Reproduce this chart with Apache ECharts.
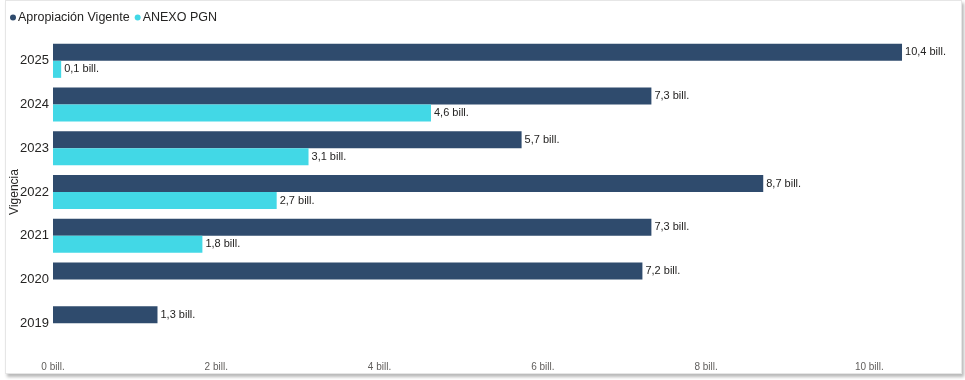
<!DOCTYPE html>
<html>
<head>
<meta charset="utf-8">
<script src="https://cdn.jsdelivr.net/npm/echarts@6/dist/echarts.min.js"></script>
<style>
html,body{margin:0;padding:0;background:#fff;width:965px;height:380px;overflow:hidden;}
#card{position:absolute;left:5px;top:0px;width:955px;height:372px;background:#fff;border:1px solid #e6e6e6;box-shadow:2px 3px 3px rgba(0,0,0,0.28);}
#chart{position:absolute;left:0;top:0;width:965px;height:380px;}
</style>
</head>
<body>
<div id="card"></div>
<div id="chart"></div>
<script>
const categories = ['2019','2020','2021','2022','2023','2024','2025'];
const apropiacionVigente = [1.28, 7.22, 7.33, 8.70, 5.74, 7.33, 10.40];
const anexoPGN = [null, null, 1.83, 2.74, 3.13, 4.63, 0.10];
const seriesNames = ['Apropiación Vigente', 'ANEXO PGN'];
const xTicks = [0, 2, 4, 6, 8, 10];

const font = "'Liberation Sans', Arial, sans-serif";
const fmt = v => v.toFixed(1).replace('.', ',') + ' bill.';

const chart = echarts.init(document.getElementById('chart'), null, {renderer: 'canvas'});
const labelCfg = {
  show: true, position: 'right', distance: 3,
  fontFamily: font, fontSize: 11, color: '#252423',
  formatter: p => fmt(p.value)
};
chart.setOption({
  animation: false,
  backgroundColor: 'transparent',
  textStyle: {fontFamily: font},
  legend: {
    left: 5, top: 6, icon: 'circle', itemWidth: 6, itemHeight: 6, itemGap: 5,
    itemStyle: {borderWidth: 0},
    textStyle: {fontFamily: font, fontSize: 12.5, color: '#252423', padding: [0,0,0,-3]},
    data: seriesNames
  },
  grid: {left: 53, right: 14, top: 39, bottom: 35, containLabel: false, outerBoundsMode: 'none'},
  xAxis: {
    type: 'value', min: 0, max: 11, interval: 2,
    axisLine: {show: false}, axisTick: {show: false}, splitLine: {show: false},
    axisLabel: {
      showMaxLabel: false, margin: 17,
      fontFamily: font, fontSize: 10, color: '#605E5C',
      formatter: v => xTicks.includes(v) ? v + ' bill.' : ''
    }
  },
  yAxis: {
    type: 'category', data: categories,
    name: 'Vigencia', nameLocation: 'middle', nameGap: 32, nameRotate: 90,
    nameMoveOverlap: false,
    nameTextStyle: {fontFamily: font, fontSize: 12, color: '#252423'},
    axisLine: {show: false}, axisTick: {show: false},
    axisLabel: {margin: 4, fontFamily: font, fontSize: 13, color: '#252423', padding: [3,0,0,0]}
  },
  series: [
    {
      name: seriesNames[0], type: 'bar', data: apropiacionVigente,
      barWidth: 17, barGap: '0%',
      itemStyle: {color: '#2F4B6D'},
      label: labelCfg
    },
    {
      name: seriesNames[1], type: 'bar', data: anexoPGN,
      barWidth: 17,
      itemStyle: {color: '#42D8E6'},
      label: labelCfg
    }
  ]
});
</script>
</body>
</html>
